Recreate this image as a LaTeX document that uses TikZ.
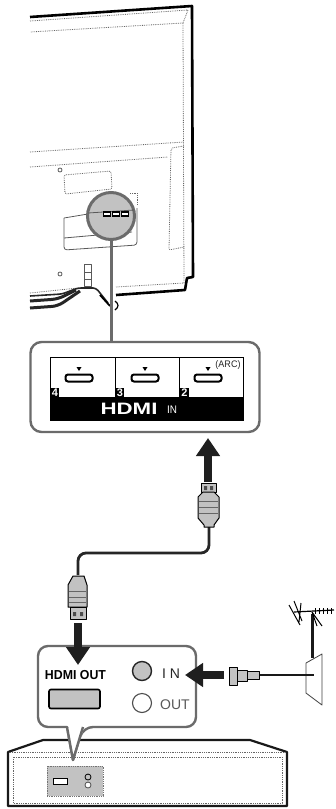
\documentclass[tikz,border=0pt]{standalone}
\usepackage{fontspec}
\setmainfont{Liberation Sans}
\usetikzlibrary{arrows.meta}
\definecolor{hg}{gray}{0.42}
\definecolor{lg}{gray}{0.76}
\tikzset{
 x=1pt,y=-1pt,
 outline/.style={line width=2.2pt,black!90,line join=round},
 fine/.style={line width=0.8pt,black!60,densely dotted},
 fineb/.style={line width=0.8pt,draw=black!65,line join=round},
 frame/.style={line width=2.4pt,draw=hg,fill=white,rounded corners=11pt},
 cablew/.style={line width=2.8pt,black!85,rounded corners=8pt},
 bigarrow/.style={line width=8pt,black!88,-{Triangle[length=18pt,width=23pt]}},
 plugbody/.style={draw=black,line width=1pt,fill=lg,line join=round},
 portshape/.style={draw=black,line width=2pt,fill=white,rounded corners=2.5pt,minimum width=27pt,minimum height=7pt,inner sep=0pt},
 tab/.style={fill=black,text=white,font=\bfseries\fontsize{11}{11}\selectfont,inner sep=1.2pt,anchor=south west},
 lab/.style={inner sep=0pt}
}
\begin{document}
\begin{tikzpicture}
\useasboundingbox (0,0) rectangle (335,809);
% TV
\draw[line width=2.6pt,black,line join=round] (30,17) -- (192,6) -- (193,277) -- (187,278) -- (185,290) -- (116,295);
\draw[fine] (30,21) -- (188,10) -- (183,23) -- (30,32);
\draw[fine] (183,23) -- (184,283) -- (116,287);
\draw[fine] (30,152) -- (184,142);
\draw[fine] (30,167) -- (168,157);
\draw[fine,rounded corners=2pt] (184,146) -- (171,148) -- (169,250) -- (184,247);
\draw[fine,rounded corners=2pt] (64,175) -- (111,171) -- (112,189) -- (65,194) -- cycle;
\draw[fine] (130,193) -- (137,193) -- (137,205);
\draw[fineb,rounded corners=3pt] (64,218) -- (64,250) -- (137,245) -- (137,208);
\draw[fineb] (64,238) -- (132,232);
\draw[fineb] (64,218) -- (88,214);
\draw[fineb] (60,170) circle (2);
\draw[fineb] (60,274) circle (2);
\draw[fineb] (84,264) -- (91,264) -- (91,286) -- (84,286) -- cycle;
\draw[fineb] (84,272) -- (91,272) (84,279) -- (91,279);
\draw[fine] (30,293) -- (78,288);
% stand and cables
\draw[line width=1.6pt,black!85,rounded corners=3pt] (30,296) -- (62,294) -- (78,288) -- (96,288) -- (108,303);
\draw[line width=3pt,black!85,rounded corners=6pt] (30,301) -- (58,299) -- (76,290);
\draw[line width=3pt,black!85,rounded corners=6pt] (30,308) -- (58,306) -- (80,291);
\draw[line width=1.8pt,black] (100,295) -- (110,306);
\draw[line width=1.2pt,black] (115,301) .. controls (119,304) and (119,307) .. (115,310);
% lens
\node[circle,draw=hg,line width=3pt,fill=lg,minimum size=47pt,inner sep=0pt] (lens) at (111,216) {};
\draw[fineb] (88,213) -- (134,210);
\foreach \a in {107,116,125}{\node[draw=black,line width=1.2pt,fill=white,minimum width=7pt,minimum height=4pt,inner sep=0pt] at (\a,214) {};}
% HDMI IN panel
\node[frame,minimum width=229pt,minimum height=90pt,inner sep=0pt] (panel) at (145,387) {};
\draw[line width=3pt,hg] (lens.south) -- (panel.north -| lens.south);
\node[draw=black,line width=0.8pt,fill=white,minimum width=193pt,minimum height=63pt,inner sep=0pt] (board) at (146.5,388.5) {};
\node[fill=black,minimum width=193pt,minimum height=23pt,inner sep=0pt,anchor=south] (band) at (board.south) {};
\draw[line width=0.9pt,black] (115,357) -- (115,397) (179,357) -- (179,397);
\foreach \nm/\a in {pa/79,pb/145,pc/208}{\node[portshape] (\nm) at (\a,378) {};
 \fill[black] (\a-2.5,367) -- (\a+2.5,367) -- (\a,371) -- cycle;}
\node[tab] at (50.5,398) {4};
\node[tab] at (115.5,398) {3};
\node[tab] at (180,398) {2};
\node[lab,font=\fontsize{9.5}{10}\selectfont,black!85,xscale=.95] at (228,365) {(ARC)};
\node[lab,text=white,font=\bfseries\fontsize{16.5}{16}\selectfont,xscale=1.35] at (129,409) {HDMI};
\node[lab,text=white,font=\fontsize{11}{11}\selectfont,xscale=.9] at (172,410) {IN};
% arrow up to panel
\coordinate (upstart) at (208,482);
\coordinate (upend) at (208,438);
\draw[bigarrow] (upstart) -- (upend);
% cable & plugs
\coordinate (plugA) at (209,527);
\coordinate (plugB) at (78,575);
\draw[cablew] (plugA) -- (209,553) -- (78,553) -- (plugB);
\draw[plugbody] (201,483) -- (216,483) -- (216,492) -- (201,492) -- cycle;
\fill[black!70] (204,486) rectangle (207,490) (210,486) rectangle (213,490);
\draw[plugbody] (203,492) -- (214,492) -- (219,497) -- (219,518) -- (214,525) -- (214,527) -- (204,527) -- (204,525) -- (198,518) -- (198,497) -- cycle;
\draw[black!60,line width=0.8pt] (199,501) -- (218,501) (199,507) -- (218,507) (199,513) -- (218,513);
\draw[plugbody] (73,576) -- (84,576) -- (87,585) -- (87,607) -- (68,607) -- (68,585) -- cycle;
\draw[black!60,line width=0.8pt] (69,591) -- (86,591) (69,597) -- (86,597) (69,602) -- (86,602);
\draw[plugbody] (70,607) -- (86,607) -- (86,619) -- (70,619) -- cycle;
\fill[black!70] (73,612) rectangle (76,616) (80,612) rectangle (83,616);
% callout
\coordinate (calloutTip) at (73,760);
\draw[line width=2.4pt,draw=hg,fill=white,line join=round,rounded corners=10pt] (38,646) -- (196,646) -- (196,727) -- (83,727) [sharp corners] -- (calloutTip) -- (67,727) [rounded corners=10pt] -- (38,727) -- cycle;
% arrow to callout
\coordinate (dnstart) at (78,623);
\coordinate (dnend) at (78,665);
\draw[bigarrow] (dnstart) -- (dnend);
\node[lab,font=\bfseries\fontsize{13}{13}\selectfont,xscale=.95,black] (hdmiout) at (75.5,675) {HDMI OUT};
\node[draw=black,line width=1.6pt,fill=lg,rounded corners=2pt,minimum width=51pt,minimum height=19pt,inner sep=0pt] (outport) at (74.5,699) {};
\node[circle,draw=black!85,line width=1.4pt,fill=lg,minimum size=19pt,inner sep=0pt] (incirc) at (142,671) {};
\node[circle,draw=black!70,line width=1.1pt,fill=white,minimum size=19pt,inner sep=0pt] (outcirc) at (142,703) {};
\node[lab,font=\fontsize{14}{14}\selectfont,black!85] (intext) at (171,674) {I N};
\node[lab,font=\fontsize{14}{14}\selectfont,black!65] (outtext) at (175,705) {OUT};
% antenna side
\coordinate (antstart) at (224,675);
\coordinate (antend) at (185,675);
\draw[bigarrow] (antstart) -- (antend);
\draw[fineb,fill=white,draw=black!75] (306,663) -- (322,654) -- (322,705) -- (306,693) -- cycle;
\coordinate (wallin) at (314,675);
\draw[line width=2.8pt,black!90] (258,675) -- (wallin);
\draw[plugbody] (229,667) -- (237,667) -- (237,685) -- (229,685) -- cycle;
\draw[plugbody] (237,670) -- (247,670) -- (247,681) -- (237,681) -- cycle;
\draw[plugbody] (247,671) -- (259,671) -- (259,679) -- (247,679) -- cycle;
\draw[line width=3pt,black!90] (312,614) -- (312,658);
\draw[line width=1.2pt,black] (294,612) -- (334,610);
\draw[line width=1pt,black] (289,605) -- (300,625) (294,601) -- (302,621) (301,603) -- (299,622);
\draw[line width=1pt,black] (312,612) -- (322,626) (312,612) -- (317,626);
\foreach \a in {315,319,323,327,331}{\draw[line width=1pt,black] (\a,608) -- (\a,614);}
% box
\draw[line width=2.2pt,black!90,line join=round] (73,740) -- (43,740) -- (8,752) -- (8,806) -- (287,806) -- (287,752) -- (250,740) -- (80,740);
\draw[fine] (10,752) -- (70,752) (78,752) -- (286,752);
\draw[fine] (13,757) rectangle (282,803);
\fill[white] (66,727.5) -- (84,727.5) -- (73,760.5) -- cycle;
\draw[line width=2.4pt,hg,line join=round] (67,727) -- (calloutTip) -- (83,727);
\node[draw=black!55,densely dotted,line width=.8pt,fill=lg,minimum width=56pt,minimum height=30pt,inner sep=0pt] (mini) at (75,781) {};
\node[draw=black,line width=.9pt,fill=white,minimum width=14pt,minimum height=6pt,inner sep=0pt] at (60,781) {};
\node[circle,draw=black,line width=.8pt,fill=lg,minimum size=6pt,inner sep=0pt] at (88,777) {};
\node[circle,draw=black!70,line width=.8pt,fill=white,minimum size=6pt,inner sep=0pt] at (88,785) {};
\end{tikzpicture}
\end{document}
